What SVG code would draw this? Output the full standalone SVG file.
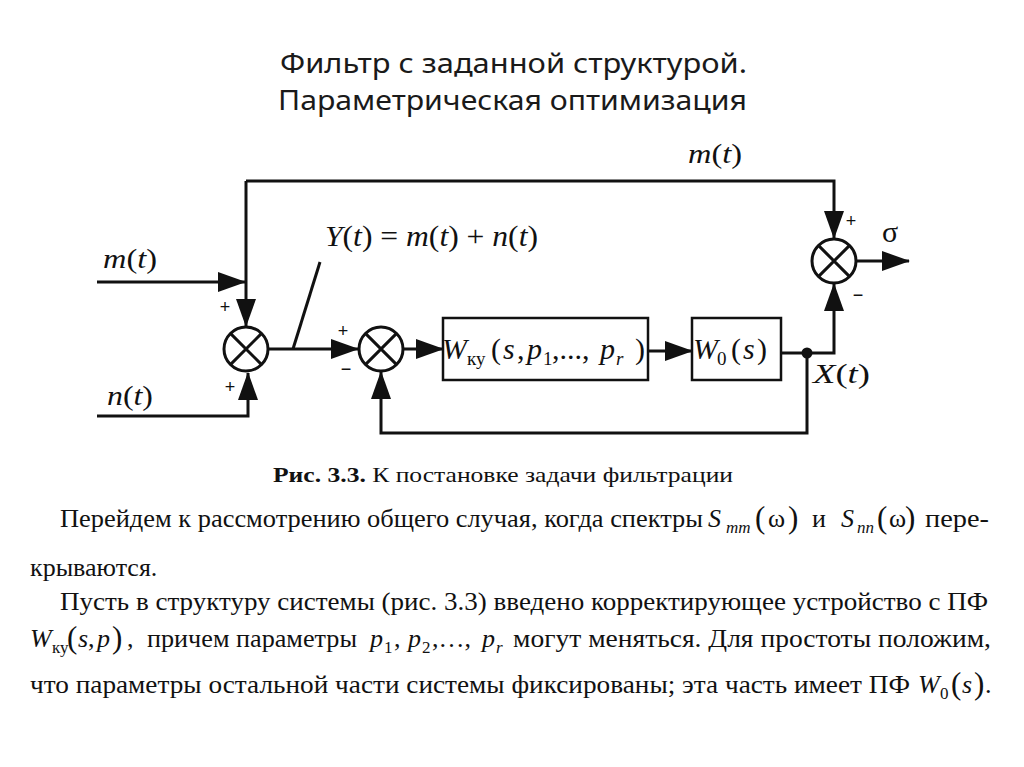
<svg xmlns="http://www.w3.org/2000/svg" width="1024" height="767" viewBox="0 0 1024 767">
<style>
.title{font-family:"Noto Sans","Open Sans",sans-serif;font-size:27px;fill:#1a1a1a}
.m{font-family:"Liberation Serif","Times New Roman",serif;font-size:28px;fill:#111}
.bx{font-family:"Liberation Serif","Times New Roman",serif;font-size:30px;fill:#111}
.i{font-style:italic}
.sub{font-size:19px}
.sg{font-family:"Liberation Sans",Arial,sans-serif;font-size:18px;fill:#111}
.b{font-family:"Liberation Serif","Times New Roman",serif;font-size:26px;fill:#111}
.bs{font-size:17px}
.par{font-size:31px}
.cap{font-family:"Liberation Serif","Times New Roman",serif;font-size:22px;fill:#111}
.ln{fill:none;stroke:#111;stroke-width:3}
.ar{fill:none;stroke:#111;stroke-width:3;marker-end:url(#ah)}
.sum{fill:#fff;stroke:#111;stroke-width:3}
.box{fill:#fff;stroke:#111;stroke-width:2.5}
</style>
<defs>
<marker id="ah" viewBox="0 0 28 20" markerWidth="28" markerHeight="20" markerUnits="userSpaceOnUse" refX="27" refY="10" orient="auto">
<path d="M0,0 L28,10 L0,20 z" fill="#111"/>
</marker>
</defs>
<rect width="1024" height="767" fill="#fff"/>

<g id="title">
<text class="title" x="280" y="73" textLength="467" lengthAdjust="spacingAndGlyphs">Фильтр с заданной структурой.</text>
<text class="title" x="278" y="110" textLength="469" lengthAdjust="spacingAndGlyphs">Параметрическая оптимизация</text>
</g>

<g id="connectors">
<path class="ar" d="M97,282 H245"/>
<path class="ar" d="M246,181 V326"/>
<path class="ar" d="M246,181 H834 V238"/>
<path class="ar" d="M97,416 H248 V373"/>
<path class="ar" d="M268,349 H358"/>
<path class="ln" d="M293,349 L320,262"/>
<path class="ar" d="M404,349 H443"/>
<path class="ar" d="M648,351 H692"/>
<path class="ar" d="M781,353 H834 V284"/>
<path class="ar" d="M807,353 V433 H381 V372"/>
<path class="ar" d="M856,261 H909"/>
<circle cx="807" cy="353" r="5.5" fill="#111"/>
</g>

<g id="sum1">
<circle class="sum" cx="246" cy="349" r="22"/>
<path class="ln" d="M230.4,333.4 L261.6,364.6 M261.6,333.4 L230.4,364.6"/>
<text class="sg" x="225" y="313" text-anchor="middle">+</text>
<text class="sg" x="230" y="393" text-anchor="middle">+</text>
</g>
<g id="sum2">
<circle class="sum" cx="381" cy="349" r="22"/>
<path class="ln" d="M365.4,333.4 L396.6,364.6 M396.6,333.4 L365.4,364.6"/>
<text class="sg" x="343" y="337" text-anchor="middle">+</text>
<text class="sg" x="346" y="375" text-anchor="middle">−</text>
</g>
<g id="sum3">
<circle class="sum" cx="834" cy="261" r="22"/>
<path class="ln" d="M818.4,245.4 L849.6,276.6 M849.6,245.4 L818.4,276.6"/>
<text class="sg" x="851" y="227" text-anchor="middle">+</text>
<text class="sg" x="858" y="301" text-anchor="middle">−</text>
</g>

<g id="box1">
<rect class="box" x="443" y="318" width="205" height="62"/>
<text class="bx"><tspan x="442" y="359" class="i">W</tspan><tspan x="467" y="365" class="sub">ку</tspan><tspan x="491" y="359">(</tspan><tspan x="503" y="359" class="i">s</tspan><tspan x="517" y="359">,</tspan><tspan x="527" y="359" class="i">p</tspan><tspan x="543" y="365" class="sub">1</tspan><tspan x="552" y="359">,...,</tspan><tspan x="600" y="359" class="i">p</tspan><tspan x="616" y="365" class="sub i">r</tspan><tspan x="635" y="359">)</tspan></text>
</g>
<g id="box2">
<rect class="box" x="692" y="318" width="89" height="62"/>
<text class="bx"><tspan x="693" y="359" class="i">W</tspan><tspan x="717" y="365" class="sub">0</tspan><tspan x="731" y="359">(</tspan><tspan x="743" y="359" class="i">s</tspan><tspan x="757" y="359">)</tspan></text>
</g>

<g id="labels">
<text class="m" x="688" y="163" textLength="54" lengthAdjust="spacingAndGlyphs"><tspan class="i">m</tspan>(<tspan class="i">t</tspan>)</text>
<text class="m" x="103" y="268" textLength="54" lengthAdjust="spacingAndGlyphs"><tspan class="i">m</tspan>(<tspan class="i">t</tspan>)</text>
<text class="m" x="107" y="405" textLength="46" lengthAdjust="spacingAndGlyphs"><tspan class="i">n</tspan>(<tspan class="i">t</tspan>)</text>
<text class="m" x="325" y="246" style="font-size:29px" textLength="213" lengthAdjust="spacingAndGlyphs"><tspan class="i">Y</tspan>(<tspan class="i">t</tspan>) = <tspan class="i">m</tspan>(<tspan class="i">t</tspan>) + <tspan class="i">n</tspan>(<tspan class="i">t</tspan>)</text>
<text class="m" x="813" y="383" textLength="57" lengthAdjust="spacingAndGlyphs"><tspan class="i">X</tspan>(<tspan class="i">t</tspan>)</text>
<text class="m" x="882" y="242" style="font-size:30px">σ</text>
</g>

<g id="caption">
<text class="cap" x="273" y="482" textLength="460" lengthAdjust="spacingAndGlyphs"><tspan font-weight="bold">Рис. 3.3.</tspan> К постановке задачи фильтрации</text>
</g>

<g id="paragraph">
<text class="b" x="60" y="527" textLength="643" lengthAdjust="spacingAndGlyphs">Перейдем к рассмотрению общего случая, когда спектры</text>
<text class="b"><tspan x="708" y="527" class="i">S</tspan><tspan x="726" y="533" class="i bs">mm</tspan><tspan x="755" y="528" class="par">(</tspan><tspan x="768" y="527">ω</tspan><tspan x="788" y="528" class="par">)</tspan><tspan x="812" y="527">и</tspan><tspan x="841" y="527" class="i">S</tspan><tspan x="857" y="533" class="i bs">nn</tspan><tspan x="877" y="528" class="par">(</tspan><tspan x="889" y="527">ω</tspan><tspan x="905" y="528" class="par">)</tspan></text>
<text class="b" x="925" y="527" textLength="64" lengthAdjust="spacingAndGlyphs">пере-</text>
<text class="b" x="30" y="576">крываются.</text>
<text class="b" x="60" y="610" textLength="928" lengthAdjust="spacingAndGlyphs">Пусть в структуру системы (рис. 3.3) введено корректирующее устройство с ПФ</text>
<text class="b"><tspan x="30" y="647" class="i">W</tspan><tspan x="52" y="653" class="bs">ку</tspan><tspan x="67" y="648" class="par">(</tspan><tspan x="78" y="647" class="i">s</tspan><tspan x="88" y="647">,</tspan><tspan x="97" y="647" class="i">p</tspan><tspan x="112" y="648" class="par">)</tspan><tspan x="127" y="647">,</tspan></text>
<text class="b" x="147" y="647" textLength="210" lengthAdjust="spacingAndGlyphs">причем параметры</text>
<text class="b"><tspan x="370" y="647" class="i">p</tspan><tspan x="384" y="653" class="bs">1</tspan><tspan x="394" y="647">,</tspan><tspan x="408" y="647" class="i">p</tspan><tspan x="422" y="653" class="bs">2</tspan><tspan x="432" y="647">,…,</tspan><tspan x="482" y="647" class="i">p</tspan><tspan x="496" y="653" class="i bs">r</tspan></text>
<text class="b" x="513" y="647" textLength="478" lengthAdjust="spacingAndGlyphs">могут меняться. Для простоты положим,</text>
<text class="b" x="30" y="693" textLength="880" lengthAdjust="spacingAndGlyphs">что параметры остальной части системы фиксированы; эта часть имеет ПФ</text>
<text class="b"><tspan x="918" y="693" class="i">W</tspan><tspan x="940" y="699" class="bs">0</tspan><tspan x="951" y="694" class="par">(</tspan><tspan x="962" y="693" class="i">s</tspan><tspan x="974" y="694" class="par">)</tspan><tspan x="985" y="693">.</tspan></text>
</g>
</svg>
